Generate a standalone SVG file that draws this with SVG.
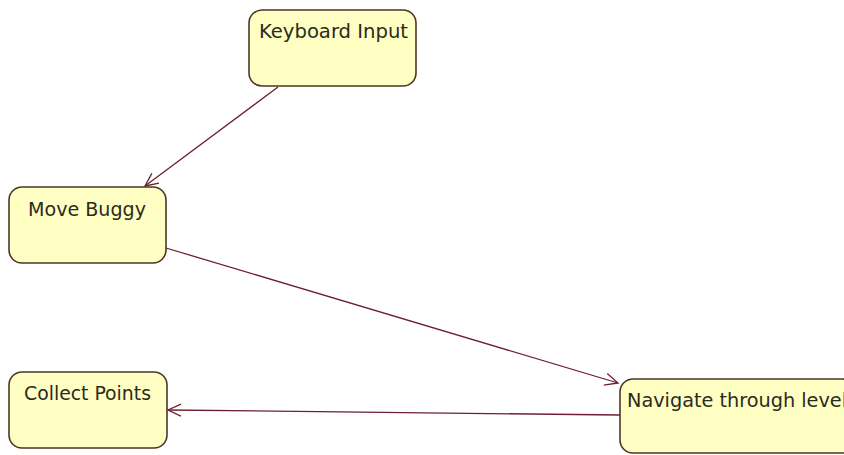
<svg xmlns="http://www.w3.org/2000/svg" width="844" height="455" viewBox="0 0 844 455">
  <style>
    .state rect { fill: #ffffc4; stroke: #4e3626; stroke-width: 1.6; }
    .state text { font-family: "DejaVu Sans Condensed", "DejaVu Sans", sans-serif; font-size: 20px; fill: #2b2b1c; }
    .flow { fill: none; stroke: #6e2030; stroke-width: 1.3; marker-end: url(#open); }
  </style>
  <defs>
    <marker id="open" viewBox="-14 -7 16 14" refX="0" refY="0" markerWidth="16" markerHeight="14" markerUnits="userSpaceOnUse" orient="auto">
      <path d="M -13 -6 L 0 0 L -13 6" fill="none" stroke="#6e2030" stroke-width="1.3"/>
    </marker>
  </defs>
  <rect width="844" height="455" fill="#ffffff"/>

  <g id="connectors">
    <line class="flow" x1="278" y1="87" x2="145" y2="186"/>
    <line class="flow" x1="166" y1="248" x2="618" y2="383"/>
    <line class="flow" x1="620" y1="415" x2="168" y2="410"/>
  </g>

  <g id="keyboard-input" class="state">
    <rect x="249" y="10" width="167" height="76" rx="13" ry="13"/>
    <text x="259" y="38" textLength="149" lengthAdjust="spacingAndGlyphs">Keyboard Input</text>
  </g>

  <g id="move-buggy" class="state">
    <rect x="9" y="187" width="157" height="76" rx="13" ry="13"/>
    <text x="28" y="216" textLength="118" lengthAdjust="spacingAndGlyphs">Move Buggy</text>
  </g>

  <g id="collect-points" class="state">
    <rect x="9" y="372" width="158" height="76" rx="13" ry="13"/>
    <text x="24" y="400" textLength="127" lengthAdjust="spacingAndGlyphs">Collect Points</text>
  </g>

  <g id="navigate-level" class="state">
    <rect x="620" y="379" width="235" height="74" rx="13" ry="13"/>
    <text x="627" y="407" textLength="220" lengthAdjust="spacingAndGlyphs">Navigate through level</text>
  </g>
</svg>
